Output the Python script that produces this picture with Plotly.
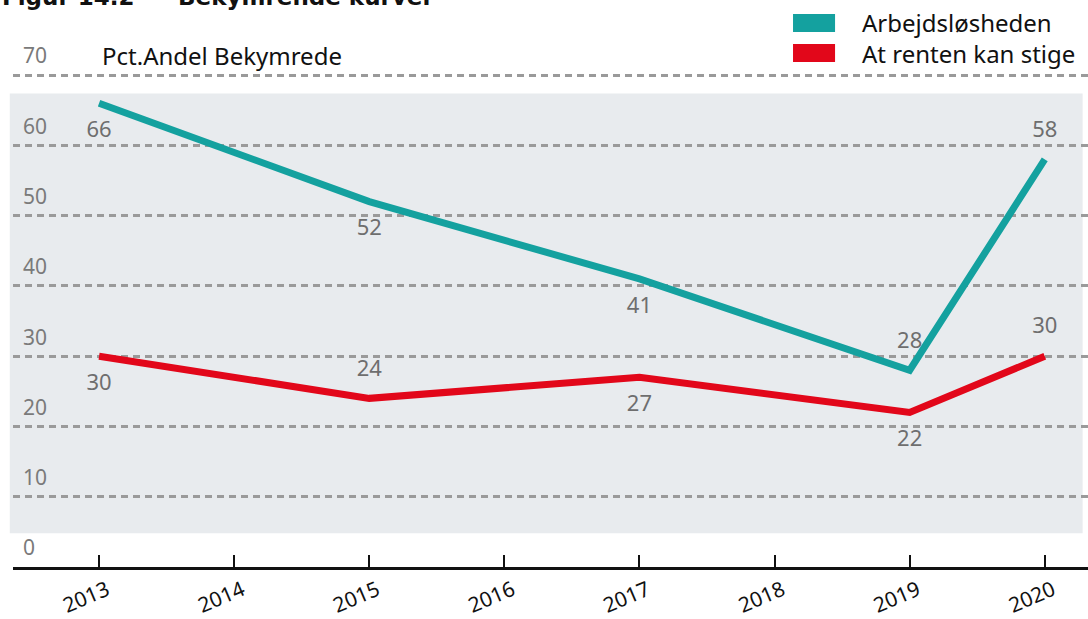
import plotly.graph_objects as go

# ---- data ----
years = [2013, 2015, 2017, 2019, 2020]
arbejdsloshed = [66, 52, 41, 28, 58]
renten = [30, 24, 27, 22, 30]
arb_textpos = ["bottom center", "bottom center", "bottom center", "top center", "top center"]
ren_textpos = ["bottom center", "top center", "bottom center", "bottom center", "top center"]
x_ticks = [2013, 2014, 2015, 2016, 2017, 2018, 2019, 2020]
x_ticktext = [str(y) for y in x_ticks]
y_ticks = [0, 10, 20, 30, 40, 50, 60, 70]
series_names = ["Arbejdsløsheden", "At renten kan stige"]
title_text = "Figur 14.2\u00a0\u00a0–\u00a0\u00a0Bekymrende kurver"
y_title = "Pct.Andel Bekymrede"

TEAL = "#14a19f"
RED = "#e2071a"
LABEL_GRAY = "#6e6e6e"
FONT = "Noto Sans"

fig = go.Figure()
fig.add_trace(go.Scatter(
    x=years, y=arbejdsloshed, mode="lines+markers+text", name=series_names[0],
    line=dict(color=TEAL, width=7), marker=dict(size=26, color="rgba(0,0,0,0)"),
    text=[str(v) for v in arbejdsloshed],
    textposition=arb_textpos, textfont=dict(family=FONT, size=22, color=LABEL_GRAY),
    showlegend=False, cliponaxis=False, hoverinfo="skip",
))
fig.add_trace(go.Scatter(
    x=years, y=renten, mode="lines+markers+text", name=series_names[1],
    line=dict(color=RED, width=7), marker=dict(size=26, color="rgba(0,0,0,0)"),
    text=[str(v) for v in renten],
    textposition=ren_textpos, textfont=dict(family=FONT, size=22, color=LABEL_GRAY),
    showlegend=False, cliponaxis=False, hoverinfo="skip",
))

# gray band behind the grid
fig.add_shape(type="rect", xref="paper", yref="y", x0=-0.003, x1=0.995, y0=4.8, y1=67.4,
              fillcolor="#e8ebee", line=dict(width=0), layer="below")

# manual legend
leg = [(TEAL, 1.0493, 1.0152, 1.0323, series_names[0]),
       (RED, 0.9924, 0.9583, 0.9753, series_names[1])]
for col, ytop, ybot, ymid, name in leg:
    fig.add_shape(type="rect", xref="paper", yref="paper", x0=0.7256, x1=0.7647,
                  y0=ybot, y1=ytop, fillcolor=col, line=dict(width=0))
    fig.add_annotation(xref="paper", yref="paper", x=0.788, y=ymid, text=name,
                       showarrow=False, xanchor="left", yanchor="middle",
                       font=dict(family=FONT, size=24, color="#111111"))

fig.add_annotation(xref="paper", yref="paper", x=0.081, y=0.9715, text=y_title,
                   showarrow=False, xanchor="left", yanchor="middle",
                   font=dict(family=FONT, size=24, color="#111111"))

fig.add_annotation(xref="paper", yref="paper", x=-0.012, y=1.0810, text="<b>" + title_text + "</b>",
                   showarrow=False, xanchor="left", yanchor="middle",
                   font=dict(family="DejaVu Sans", size=23, color="#111111"))

fig.update_layout(
    width=1088, height=619,
    margin=dict(l=13, r=0, t=40, b=52),
    paper_bgcolor="white", plot_bgcolor="rgba(0,0,0,0)",
    font=dict(family=FONT),
    showlegend=False,
)
fig.update_xaxes(
    range=[2012.363, 2020.32], tickvals=x_ticks, ticktext=x_ticktext,
    showgrid=False, zeroline=False,
    showline=True, linecolor="#111111", linewidth=3,
    ticks="inside", ticklen=12, tickwidth=2, tickcolor="#111111",
    tickangle=-23, tickfont=dict(family=FONT, size=21, color="#111111"),
    ticklabelshift=8,
)
fig.update_yaxes(
    range=[0, 75], tickvals=y_ticks,
    showgrid=True, gridcolor="#9a9a9a", gridwidth=3, griddash="7px,5px",
    zeroline=False, showline=False, ticks="",
    ticklabelposition="inside", ticklabelstandoff=7, ticklabelshift=-19,
    tickfont=dict(family=FONT, size=21, color="#7a7a7a"),
)

fig.write_html("out.html", config={"displayModeBar": False},
               post_script="document.body.style.margin='0';")
